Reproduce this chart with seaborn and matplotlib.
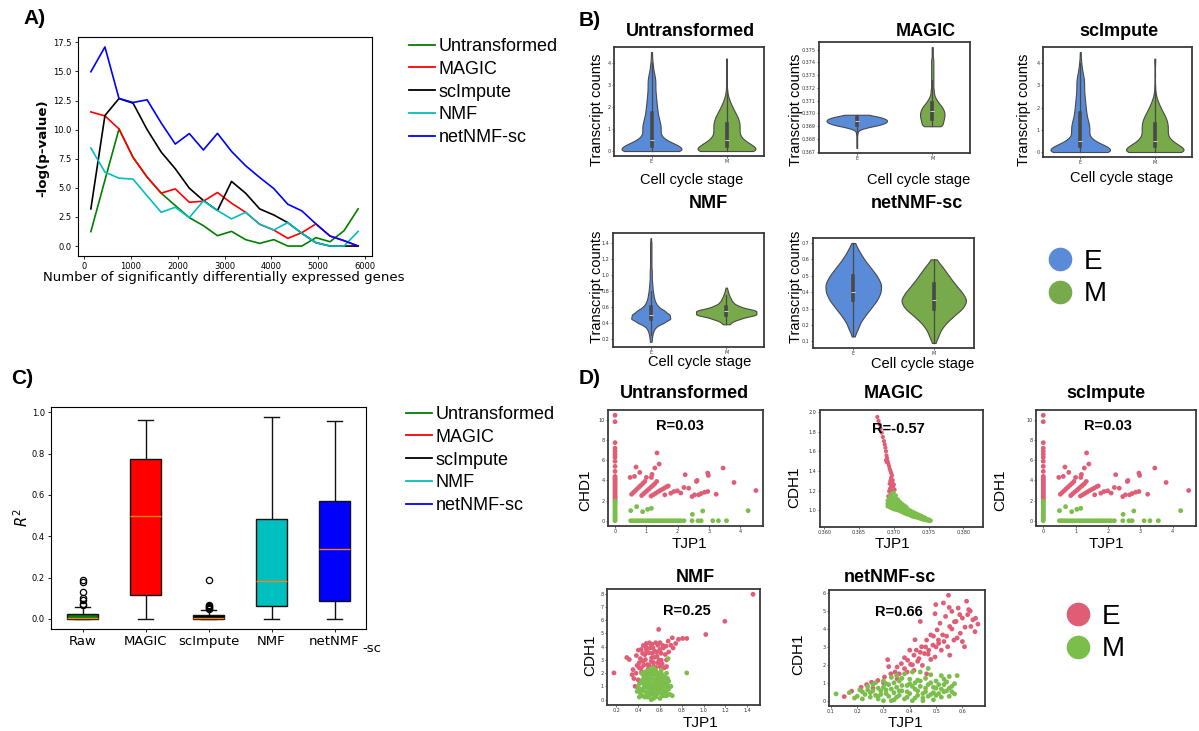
import numpy as np
import pandas as pd
import matplotlib
matplotlib.use("Agg")
import matplotlib.pyplot as plt
from matplotlib.lines import Line2D
from matplotlib.ticker import MultipleLocator, FormatStrFormatter
import seaborn as sns

# ---------------------------------------------------------------- data ----
# A) -log(p-value) against the number of differentially expressed genes
genes = [150, 450, 750, 1050, 1350, 1650, 1950, 2250, 2550, 2850,
         3150, 3450, 3750, 4050, 4350, 4650, 4950, 5250, 5550, 5850]
logp_untransformed = [1.24, 5.66, 10.06, 7.61, 5.92, 4.54, 3.48, 2.44, 1.75, 0.89,
                      1.26, 0.55, 0.23, 0.55, 0.0, 0.0, 0.72, 0.37, 1.32, 3.19]
logp_magic = [11.52, 11.18, 10.06, 7.61, 5.92, 4.54, 4.91, 3.76, 3.85, 4.60,
              3.68, 2.90, 1.87, 1.38, 0.66, 1.15, 1.90, 0.86, 0.46, 0.0]
logp_scimpute = [3.19, 11.21, 12.67, 12.27, 10.0, 8.07, 6.64, 4.97, 3.91, 3.05,
                 5.55, 4.54, 3.19, 2.67, 2.01, 1.09, 0.29, 0.0, 0.0, 0.0]
logp_nmf = [8.42, 6.35, 5.83, 5.75, 4.31, 2.90, 3.33, 2.44, 3.88, 3.05,
            2.33, 2.90, 1.87, 1.38, 2.01, 1.09, 0.29, 0.0, 0.0, 1.26]
logp_netnmf = [14.97, 17.10, 12.67, 12.33, 12.56, 10.57, 8.76, 9.66, 8.25, 9.68,
               8.13, 6.90, 5.89, 4.94, 3.59, 3.02, 1.90, 0.86, 0.46, 0.0]

methods = ["Untransformed", "MAGIC", "scImpute", "NMF", "netNMF-sc"]
method_colors = ["#008000", "#ff0000", "#000000", "#00bfbf", "#0000ff"]

# C) R^2 between CDH1 and TJP1 per method
box_labels = ["Raw", "MAGIC", "scImpute", "NMF", "netNMF"]
r2_raw = [0, 0, 0, 0, 0, 0, 0, 0, 0,
          0.001, 0.001, 0.002, 0.002, 0.003, 0.003, 0.004, 0.005,
          0.007, 0.009, 0.011, 0.013, 0.016, 0.019, 0.022, 0.024,
          0.056, 0.065, 0.072, 0.09, 0.10, 0.128, 0.178, 0.19]
r2_magic = [0.0, 0.117, 0.497, 0.772, 0.965]
r2_scimpute = [0, 0, 0, 0, 0, 0, 0, 0,
               0.001, 0.001, 0.002, 0.003, 0.003, 0.004, 0.005,
               0.006, 0.008, 0.010, 0.012, 0.014, 0.016, 0.018,
               0.042, 0.048, 0.052, 0.056, 0.062, 0.068, 0.19]
r2_nmf = [0.0, 0.061, 0.183, 0.484, 0.977]
r2_netnmf = [0.0, 0.085, 0.338, 0.569, 0.957]

# B) transcript counts by cell cycle stage (value levels and number of cells)
untr_E_levels = [0.0, 0.25, 0.5, 0.75, 1.0, 1.25, 1.5, 1.75, 2.0, 2.25,
                 2.5, 2.75, 3.0, 3.25, 3.5, 3.75, 4.0, 4.25, 4.5]
untr_E_counts = [67, 50, 25, 15, 17, 16, 13, 11, 10, 9, 8, 7, 7, 7, 5, 3, 2, 1, 1]
untr_M_levels = [0.0, 0.25, 0.5, 0.75, 1.0, 1.25, 1.5, 1.75, 2.0, 2.25,
                 2.5, 2.75, 3.0, 3.5, 4.0, 4.2]
untr_M_counts = [73, 55, 35, 26, 27, 27, 24, 18, 12, 7, 3, 1, 1, 1, 1, 1]

magic_E_levels = [0.3673, 0.3675, 0.3677, 0.3679, 0.3681, 0.3683, 0.3685,
                  0.3687, 0.3689, 0.3691, 0.3693, 0.3695, 0.3697, 0.3699]
magic_E_counts = [1, 1, 1, 1, 1, 1, 2, 4, 25, 60, 78, 80, 65, 30]
magic_M_levels = [0.3690, 0.3692, 0.3694, 0.3696, 0.3698, 0.3700, 0.3702, 0.3704,
                  0.3706, 0.3708, 0.3710, 0.3712, 0.3714, 0.3716, 0.3718, 0.3720,
                  0.3722, 0.3724, 0.3726, 0.3728, 0.3730, 0.3732, 0.3734, 0.3736,
                  0.3738, 0.3740, 0.3742, 0.3744, 0.3746, 0.3748, 0.3750, 0.3752]
magic_M_counts = [17, 19, 20, 21, 22, 22, 21, 19, 16, 12, 9, 6, 4, 3, 3, 2,
                  2, 2, 2, 2, 2, 2, 2, 2, 2, 2, 2, 1, 1, 1, 1, 1]

nmf_E_levels = [0.16, 0.20, 0.25, 0.30, 0.35, 0.40, 0.45, 0.50, 0.55, 0.60,
                0.65, 0.70, 0.75, 0.80, 0.85, 0.90, 0.95, 1.00, 1.05, 1.10,
                1.15, 1.20, 1.25, 1.30, 1.35, 1.40, 1.46]
nmf_E_counts = [2, 3, 5, 8, 15, 38, 58, 55, 40, 22, 14, 10, 8, 6, 5, 4, 3, 3,
                3, 2, 2, 2, 2, 2, 2, 2, 1]
nmf_M_levels = [0.38, 0.40, 0.45, 0.50, 0.55, 0.60, 0.65, 0.70, 0.75, 0.80, 0.84]
nmf_M_counts = [3, 8, 30, 68, 68, 30, 15, 10, 6, 3, 1]

netnmf_E_levels = [0.13, 0.17, 0.20, 0.25, 0.30, 0.35, 0.40, 0.45, 0.50, 0.55,
                   0.60, 0.65, 0.70]
netnmf_E_counts = [2, 5, 10, 22, 35, 48, 56, 57, 48, 35, 22, 12, 3]
netnmf_M_levels = [0.09, 0.12, 0.15, 0.20, 0.25, 0.30, 0.35, 0.40, 0.45, 0.50,
                   0.55, 0.60]
netnmf_M_counts = [2, 4, 10, 22, 40, 62, 72, 60, 45, 32, 20, 5]

# D) CDH1 against TJP1 per cell, (TJP1, CDH1) pairs
untr_E_cells = [
    (0, 2.0), (0, 2.15), (0, 2.3), (0, 2.45), (0, 2.6), (0, 2.75), (0, 2.9),
    (0, 3.05), (0, 3.2), (0, 3.35), (0, 3.5), (0, 3.65), (0, 3.8), (0, 3.95),
    (0, 4.1), (0, 4.25), (0, 4.4), (0, 4.9), (0, 5.4), (0, 5.9), (0, 6.3),
    (0, 6.6), (0, 6.9), (0, 7.2), (0, 7.75), (0, 9.83), (0, 10.47),
    (0.48, 4.3), (0.62, 4.4), (0.67, 5.33), (0.79, 4.8), (1.0, 4.3),
    (1.16, 4.3), (1.18, 4.6), (1.27, 5.23), (1.34, 6.73), (1.41, 5.63),
    (1.33, 3.9),
    (0.53, 2.63), (0.59, 2.81), (0.65, 2.99), (0.71, 3.17), (0.77, 3.35),
    (0.83, 3.53), (0.89, 3.71), (0.95, 3.9),
    (0.85, 2.5), (0.91, 2.67), (0.97, 2.84), (1.03, 3.0), (1.09, 3.17),
    (1.15, 3.34), (1.21, 3.5), (1.27, 3.67),
    (1.15, 2.45), (1.22, 2.58), (1.29, 2.71), (1.36, 2.85), (1.43, 2.98),
    (1.5, 3.1), (1.57, 3.23), (1.64, 3.36), (1.7, 3.45),
    (1.59, 2.57), (1.78, 2.73), (1.88, 2.9), (1.99, 2.97), (2.1, 2.75),
    (2.2, 3.3), (2.24, 4.57), (2.35, 3.23), (2.46, 2.4), (2.54, 2.57),
    (2.6, 3.9), (2.62, 4.0), (2.67, 2.57), (2.75, 2.7), (2.86, 2.83),
    (2.96, 2.9), (2.96, 4.73), (2.98, 4.5), (3.23, 2.63), (3.45, 5.23),
    (3.8, 3.8), (4.5, 3.0)]
untr_M_cells = [
    (0, 0.0), (0, 0.15), (0, 0.3), (0, 0.45), (0, 0.6), (0, 0.75), (0, 0.9),
    (0, 1.05), (0, 1.2), (0, 1.35), (0, 1.5), (0, 1.65), (0, 1.8), (0, 1.95),
    (0.5, 1.0), (0.69, 1.4), (0.88, 0.9), (1.04, 1.13), (1.16, 1.23),
    (2.47, 0.63), (2.8, 0.97), (4.25, 1.0),
    (0.5, 0), (0.58, 0), (0.66, 0), (0.74, 0), (0.82, 0), (0.9, 0), (0.98, 0),
    (1.06, 0), (1.14, 0), (1.22, 0), (1.3, 0), (1.38, 0), (1.46, 0), (1.54, 0),
    (1.62, 0), (1.7, 0), (1.78, 0), (1.86, 0), (1.94, 0), (2.02, 0), (2.1, 0),
    (2.2, 0), (2.46, 0), (2.65, 0), (2.75, 0), (3.12, 0), (3.3, 0), (3.56, 0)]

magic_E_cells = [
    (0.36763, 1.949), (0.36780, 1.91), (0.36795, 1.874), (0.36810, 1.83),
    (0.36826, 1.789), (0.36842, 1.745), (0.36858, 1.704), (0.36869, 1.67),
    (0.36879, 1.636), (0.36887, 1.60), (0.36895, 1.558), (0.36903, 1.53),
    (0.36911, 1.50), (0.36888, 1.51), (0.36898, 1.49), (0.36921, 1.475),
    (0.36932, 1.449), (0.36942, 1.42), (0.36953, 1.398), (0.36963, 1.375),
    (0.36974, 1.354), (0.36984, 1.306), (0.37000, 1.262), (0.37011, 1.211),
    (0.36963, 1.245), (0.36932, 1.194), (0.36921, 1.143), (0.36932, 1.092),
    (0.36947, 1.058), (0.36950, 1.30), (0.36960, 1.33), (0.36940, 1.27),
    (0.36945, 1.22), (0.36955, 1.17), (0.36935, 1.12), (0.36975, 1.28),
    (0.36990, 1.24), (0.36970, 1.20), (0.36925, 1.10), (0.36915, 1.06)]
magic_M_cells = [
    (0.3691, 1.04), (0.3691, 1.07), (0.3691, 1.10),
    (0.3694, 1.03), (0.3694, 1.07), (0.3694, 1.11), (0.3694, 1.14),
    (0.3697, 1.02), (0.3697, 1.06), (0.3697, 1.10), (0.3697, 1.14), (0.3697, 1.17),
    (0.3700, 1.01), (0.3700, 1.05), (0.3700, 1.09), (0.3700, 1.13), (0.3700, 1.18),
    (0.3703, 1.005), (0.3703, 1.04), (0.3703, 1.08), (0.3703, 1.12), (0.3703, 1.15),
    (0.3706, 1.0), (0.3706, 1.035), (0.3706, 1.07), (0.3706, 1.11),
    (0.3709, 0.99), (0.3709, 1.02), (0.3709, 1.05), (0.3709, 1.085),
    (0.3712, 0.98), (0.3712, 1.01), (0.3712, 1.04), (0.3712, 1.065),
    (0.3715, 0.97), (0.3715, 1.0), (0.3715, 1.03), (0.3715, 1.05),
    (0.3718, 0.96), (0.3718, 0.99), (0.3718, 1.02), (0.3718, 1.035),
    (0.3721, 0.955), (0.3721, 0.98), (0.3721, 1.01),
    (0.3724, 0.945), (0.3724, 0.97), (0.3724, 0.995),
    (0.3727, 0.935), (0.3727, 0.96), (0.3727, 0.985),
    (0.3730, 0.93), (0.3730, 0.95), (0.3730, 0.975),
    (0.3733, 0.925), (0.3733, 0.945), (0.3733, 0.965),
    (0.3736, 0.92), (0.3736, 0.935), (0.3736, 0.955),
    (0.3739, 0.91), (0.3739, 0.93), (0.3739, 0.945),
    (0.3742, 0.905), (0.3742, 0.92), (0.3742, 0.935),
    (0.3745, 0.90), (0.3745, 0.915), (0.3745, 0.925),
    (0.3748, 0.895), (0.3748, 0.91), (0.3751, 0.89), (0.3751, 0.905),
    (0.3753, 0.895)]

nmf_E_cells = [
    (1.455, 7.95), (1.196, 5.91), (1.021, 4.92), (0.588, 5.30), (0.177, 2.02),
    (0.295, 3.18), (0.318, 3.03), (0.344, 1.89), (0.371, 1.01), (0.383, 3.33),
    (0.428, 3.79), (0.447, 4.09), (0.474, 4.24), (0.504, 4.29), (0.527, 4.17),
    (0.409, 2.78), (0.428, 2.40), (0.466, 3.03), (0.497, 3.54), (0.523, 3.16),
    (0.550, 3.66), (0.573, 3.28), (0.599, 3.79), (0.626, 4.09), (0.656, 4.04),
    (0.675, 4.42), (0.713, 4.67), (0.744, 4.24), (0.770, 4.55), (0.808, 4.62),
    (0.846, 4.62), (0.580, 2.78), (0.542, 2.53), (0.485, 2.65), (0.447, 2.90),
    (0.390, 2.58), (0.512, 2.22), (0.611, 2.98), (0.649, 3.41), (0.352, 2.27),
    (0.401, 3.74), (0.535, 3.91), (0.474, 3.79), (0.46, 3.4), (0.52, 2.9),
    (0.56, 2.45), (0.43, 2.1), (0.60, 2.5), (0.49, 2.0), (0.55, 3.2),
    (0.42, 3.1), (0.45, 2.6), (0.48, 3.6), (0.50, 2.6), (0.51, 3.9),
    (0.53, 3.5), (0.54, 2.8), (0.57, 3.6), (0.58, 4.1), (0.59, 3.0),
    (0.61, 3.5), (0.62, 2.7), (0.63, 3.9), (0.64, 2.4), (0.66, 3.0),
    (0.68, 3.6), (0.70, 4.1), (0.44, 3.5), (0.47, 4.0), (0.49, 2.3),
    (0.41, 2.4), (0.38, 2.0), (0.36, 1.6), (0.56, 4.3), (0.60, 4.3),
    (0.52, 4.1), (0.46, 1.9), (0.40, 1.5), (0.72, 3.9), (0.66, 2.5)]
nmf_M_cells = [
    (0.846, 2.02), (0.675, 3.10), (0.713, 0.30), (0.390, 0.63),
    (0.42, 0.5), (0.45, 0.9), (0.47, 1.3), (0.48, 1.8), (0.50, 0.3), (0.50, 1.1),
    (0.52, 1.6), (0.53, 2.1), (0.54, 0.7), (0.55, 1.3), (0.56, 0.2), (0.57, 1.9),
    (0.58, 1.0), (0.59, 0.5), (0.60, 1.5), (0.61, 2.2), (0.62, 0.8), (0.63, 1.2),
    (0.64, 0.3), (0.65, 1.7), (0.66, 0.6), (0.67, 1.1), (0.44, 1.5), (0.46, 0.2),
    (0.49, 2.2), (0.51, 0.6), (0.53, 1.0), (0.55, 1.9), (0.57, 0.4), (0.58, 1.4),
    (0.60, 0.1), (0.62, 1.9), (0.64, 0.9), (0.68, 1.4), (0.41, 1.2), (0.43, 2.0),
    (0.48, 0.5), (0.52, 0.0), (0.56, 0.9), (0.59, 1.8), (0.61, 0.6), (0.63, 1.5),
    (0.70, 1.0), (0.66, 2.0), (0.54, 2.4), (0.47, 1.0), (0.69, 0.4), (0.45, 1.8),
    (0.50, 1.5), (0.57, 1.2), (0.62, 0.3), (0.40, 0.9), (0.53, 0.4), (0.65, 1.3),
    (0.41, 0.2), (0.42, 0.8), (0.43, 1.4), (0.44, 0.3), (0.45, 1.2), (0.46, 1.6),
    (0.47, 0.6), (0.48, 1.2), (0.49, 0.9), (0.50, 1.9), (0.51, 1.3), (0.52, 0.8),
    (0.53, 1.6), (0.54, 1.1), (0.55, 0.5), (0.56, 1.5), (0.57, 0.9), (0.58, 2.0),
    (0.59, 0.8), (0.60, 1.2), (0.61, 1.7), (0.62, 1.0), (0.63, 0.6), (0.64, 1.6),
    (0.65, 0.9), (0.66, 0.3), (0.67, 1.6), (0.68, 0.8), (0.46, 2.1), (0.51, 2.3),
    (0.56, 2.2), (0.60, 2.0), (0.49, 0.2), (0.54, 0.1), (0.58, 0.6), (0.44, 0.7),
    (0.52, 1.9), (0.57, 1.6), (0.62, 1.4), (0.48, 1.6)]

netnmf_E_cells = [
    (0.151, 0.23), (0.179, 0.53), (0.215, 0.75), (0.236, 0.90), (0.255, 1.03),
    (0.279, 1.13), (0.304, 1.32), (0.316, 2.29), (0.328, 1.50), (0.344, 1.60),
    (0.352, 1.88), (0.368, 2.07), (0.380, 1.79), (0.392, 2.26), (0.403, 2.03),
    (0.416, 2.54), (0.425, 2.82), (0.435, 2.35), (0.440, 4.42), (0.445, 3.01),
    (0.456, 2.63), (0.464, 3.38), (0.472, 2.82), (0.480, 3.67), (0.488, 3.10),
    (0.496, 4.85), (0.499, 5.36), (0.504, 3.95), (0.509, 3.38), (0.515, 4.32),
    (0.525, 3.67), (0.528, 5.45), (0.536, 4.70), (0.547, 5.88), (0.552, 4.14),
    (0.560, 4.98), (0.568, 3.38), (0.576, 4.42), (0.584, 5.17), (0.592, 3.76),
    (0.600, 4.61), (0.616, 5.55), (0.624, 5.08), (0.632, 4.14), (0.640, 4.51),
    (0.659, 4.27), (0.648, 3.85), (0.608, 3.01), (0.544, 3.01), (0.416, 1.69),
    (0.352, 1.22), (0.400, 2.82), (0.448, 1.97), (0.496, 2.44), (0.552, 2.54),
    (0.520, 2.82), (0.464, 1.50), (0.58, 3.5), (0.50, 3.0), (0.43, 2.2),
    (0.56, 4.0), (0.62, 4.8), (0.47, 2.6), (0.53, 3.3), (0.39, 1.6),
    (0.32, 1.9), (0.36, 1.5), (0.38, 2.4), (0.41, 2.0), (0.44, 2.7),
    (0.46, 3.0), (0.49, 3.6), (0.51, 3.2), (0.54, 3.6), (0.57, 4.4),
    (0.59, 4.8), (0.61, 4.1), (0.63, 5.0), (0.65, 4.6), (0.42, 3.4),
    (0.48, 2.3), (0.26, 0.7), (0.30, 1.0), (0.55, 5.2), (0.60, 3.3)]
netnmf_M_cells = [
    (0.12, 0.38), (0.17, 0.45), (0.19, 0.15), (0.21, 0.6), (0.22, 0.1),
    (0.23, 0.35), (0.24, 0.8), (0.25, 0.2), (0.26, 0.55), (0.27, 1.0),
    (0.28, 0.1), (0.28, 0.7), (0.29, 0.35), (0.30, 1.1), (0.30, 0.0),
    (0.31, 0.6), (0.32, 0.25), (0.32, 0.9), (0.33, 1.3), (0.34, 0.45),
    (0.34, 0.05), (0.35, 0.75), (0.36, 1.1), (0.36, 0.3), (0.37, 0.55),
    (0.38, 1.5), (0.38, 0.1), (0.39, 0.85), (0.40, 0.4), (0.40, 1.2),
    (0.41, 0.0), (0.42, 0.65), (0.42, 1.0), (0.43, 0.3), (0.44, 1.6),
    (0.44, 0.8), (0.45, 0.15), (0.46, 0.5), (0.46, 1.25), (0.47, 0.9),
    (0.48, 0.35), (0.48, 1.45), (0.49, 0.05), (0.50, 0.7), (0.50, 1.1),
    (0.51, 0.4), (0.52, 1.4), (0.52, 0.2), (0.53, 0.9), (0.54, 0.55),
    (0.55, 1.35), (0.55, 0.25), (0.56, 0.8), (0.57, 0.38), (0.58, 1.4),
    (0.47, 1.8), (0.41, 1.6), (0.35, 1.4), (0.26, 0.9), (0.20, 0.25),
    (0.33, 0.0), (0.45, 0.0), (0.39, 0.2), (0.29, 0.55), (0.31, 0.95),
    (0.37, 1.25), (0.43, 1.15), (0.49, 0.75), (0.53, 1.2), (0.27, 0.3),
    (0.22, 0.5), (0.25, 0.45), (0.28, 0.25), (0.31, 0.4), (0.33, 0.65),
    (0.35, 0.2), (0.37, 0.85), (0.39, 0.5), (0.41, 0.8), (0.43, 0.55),
    (0.45, 0.4), (0.47, 0.25), (0.49, 0.45), (0.51, 0.9), (0.53, 0.5),
    (0.55, 0.7), (0.57, 0.95), (0.30, 0.75), (0.34, 1.0), (0.40, 0.95),
    (0.44, 1.1), (0.46, 0.7), (0.48, 1.0), (0.52, 0.65), (0.54, 1.05),
    (0.36, 0.55), (0.42, 0.15), (0.50, 0.3), (0.56, 0.5), (0.24, 0.6)]

r_values = {"Untransformed": "R=0.03", "MAGIC": "R=-0.57", "scImpute": "R=0.03",
            "NMF": "R=0.25", "netNMF-sc": "R=0.66"}

# -------------------------------------------------------------- styles ----
VIOLIN_E, VIOLIN_M = "#5a8bd8", "#78a94a"
DOT_E, DOT_M = "#e05d76", "#7cbe4c"
SANS = "Liberation Sans"
FRAME = "#3a3a3a"

W, H = 1199, 731
fig = plt.figure(figsize=(W / 100, H / 100), dpi=100)


def add_ax(x0, y0, x1, y1):
    return fig.add_axes([x0 / W, 1 - y1 / H, (x1 - x0) / W, (y1 - y0) / H])


def ftext(x, y, s, **kw):
    kw.setdefault("ha", "center")
    kw.setdefault("va", "center")
    return fig.text(x / W, 1 - y / H, s, **kw)


def method_legend(x_left, y_top):
    handles = [Line2D([], [], color=c, lw=1.3) for c in method_colors]
    fig.legend(handles, methods, loc="upper left",
               bbox_to_anchor=(x_left / W, 1 - y_top / H),
               frameon=False, prop={"family": SANS, "size": 13},
               handlelength=1.45, handletextpad=0.2, labelspacing=0.32,
               borderpad=0, borderaxespad=0)


def stage_legend(cx, cy, colors):
    handles = [Line2D([], [], ls="", marker="o", ms=16, mfc=c, mec=c)
               for c in colors]
    fig.legend(handles, ["E", "M"], loc="center left",
               bbox_to_anchor=((cx - 14) / W, 1 - cy / H),
               frameon=False, prop={"family": SANS, "size": 20},
               handlelength=1.0, handletextpad=0.35, labelspacing=0.25,
               borderpad=0, borderaxespad=0)


def small_frame(ax):
    for sp in ax.spines.values():
        sp.set_color(FRAME)
        sp.set_linewidth(1.3)
    ax.tick_params(labelsize=3.5, length=1.5, width=0.5, pad=1, colors="#333333")
    ax.set_xlabel("")
    ax.set_ylabel("")


# panel letters
for letter, (lx, ly) in {"A)": (35, 18), "B)": (590, 20),
                         "C)": (22, 379), "D)": (590, 379)}.items():
    ftext(lx, ly, letter, family=SANS, fontsize=15, fontweight="bold")

# ---------------------------------------------------------------- A ----
axA = add_ax(77.5, 37, 371.5, 256)
dfA = pd.DataFrame({
    "genes": genes * 5,
    "logp": (logp_untransformed + logp_magic + logp_scimpute
             + logp_nmf + logp_netnmf),
    "method": sum([[m] * len(genes) for m in methods], []),
})
sns.lineplot(data=dfA, x="genes", y="logp", hue="method", hue_order=methods,
             palette=dict(zip(methods, method_colors)), linewidth=1.2,
             legend=False, ax=axA)
axA.set_xticks([0, 1000, 2000, 3000, 4000, 5000, 6000])
axA.yaxis.set_major_locator(MultipleLocator(2.5))
axA.yaxis.set_major_formatter(FormatStrFormatter("%.1f"))
axA.tick_params(labelsize=6, length=2.5, width=0.6, pad=2)
axA.set_xlabel("")
axA.set_ylabel("")
ftext(224, 278, "Number of significantly differentially expressed genes",
      fontsize=9.5)
ftext(43, 148, "-log(p-value)", rotation=90, fontsize=9.6, fontweight="bold")
method_legend(409, 38)

# ---------------------------------------------------------------- C ----
axC = add_ax(51, 407, 366, 629)
r2_lists = [r2_raw, r2_magic, r2_scimpute, r2_nmf, r2_netnmf]
dfC = pd.DataFrame({
    "method": sum([[lab] * len(v) for lab, v in zip(box_labels, r2_lists)], []),
    "r2": sum(r2_lists, []),
})
sns.boxplot(data=dfC, x="method", y="r2", hue="method", order=box_labels,
            hue_order=box_labels, palette=dict(zip(box_labels, method_colors)),
            saturation=1, width=0.5, linecolor="#111111", linewidth=1.0,
            fliersize=4.5, legend=False, ax=axC,
            medianprops={"color": "#ff7f0e", "linewidth": 1.0},
            flierprops={"marker": "o", "markerfacecolor": "none",
                        "markeredgecolor": "black", "markeredgewidth": 0.9})
axC.yaxis.set_major_locator(MultipleLocator(0.2))
axC.yaxis.set_major_formatter(FormatStrFormatter("%.1f"))
axC.tick_params(axis="y", labelsize=6, length=2.5, width=0.6, pad=2)
axC.tick_params(axis="x", labelsize=9.5, length=2.5, width=0.6, pad=2)
axC.set_xlabel("")
axC.set_ylabel("")
ftext(22, 518, r"$R^2$", rotation=90, fontsize=10.5)
ftext(372, 648, "-sc", fontsize=9.5)
method_legend(406, 406)

# ---------------------------------------------------------------- B ----
def fixed_bw(width):
    return lambda kde: width / np.std(kde.dataset, ddof=1)


violin_panels = [
    # title, E levels/counts, M levels/counts, bandwidth, tick step, layout
    ("Untransformed", untr_E_levels, untr_E_counts, untr_M_levels, untr_M_counts,
     0.17, 1, dict(box=(614, 47, 764, 156), title=(690, 31), ylab=(597, 110), xlab=(692, 180))),
    ("MAGIC", magic_E_levels, magic_E_counts, magic_M_levels, magic_M_counts,
     0.00012, 0.001, dict(box=(819, 42, 970, 153), title=(926, 31), ylab=(796, 110), xlab=(919, 180))),
    ("scImpute", untr_E_levels, untr_E_counts, untr_M_levels, untr_M_counts,
     0.17, 1, dict(box=(1043, 47, 1192, 157), title=(1119, 31), ylab=(1024, 110), xlab=(1122, 178))),
    ("NMF", nmf_E_levels, nmf_E_counts, nmf_M_levels, nmf_M_counts,
     0.025, 0.2, dict(box=(613, 233, 764, 347), title=(708, 203), ylab=(597, 287), xlab=(700, 362))),
    ("netNMF-sc", netnmf_E_levels, netnmf_E_counts, netnmf_M_levels, netnmf_M_counts,
     0.03, 0.1, dict(box=(813, 238, 974, 348), title=(917, 203), ylab=(796, 287), xlab=(923, 364))),
]

for title, el, ec, ml, mc, bw, step, lay in violin_panels:
    ax = add_ax(*lay["box"])
    e_vals = np.repeat(el, ec)
    m_vals = np.repeat(ml, mc)
    dfv = pd.DataFrame({"stage": ["E"] * len(e_vals) + ["M"] * len(m_vals),
                        "value": np.concatenate([e_vals, m_vals])})
    sns.violinplot(data=dfv, x="stage", y="value", hue="stage",
                   order=["E", "M"], hue_order=["E", "M"],
                   palette={"E": VIOLIN_E, "M": VIOLIN_M}, saturation=1,
                   cut=0, bw_method=fixed_bw(bw), density_norm="area",
                   common_norm=True, linewidth=0.8, legend=False, ax=ax,
                   inner_kws={"box_width": 2.6, "whis_width": 0.9})
    ax.yaxis.set_major_locator(MultipleLocator(step))
    if step < 0.01:
        ax.yaxis.set_major_formatter(FormatStrFormatter("%.3f"))
    small_frame(ax)
    ftext(*lay["title"], title, family=SANS, fontsize=13, fontweight="bold")
    ftext(*lay["ylab"], "Transcript counts", family=SANS, fontsize=10.5,
          rotation=90)
    ftext(*lay["xlab"], "Cell cycle stage", family=SANS, fontsize=10.5)

stage_legend(1060, 278, [VIOLIN_E, VIOLIN_M])

# ---------------------------------------------------------------- D ----
scatter_panels = [
    ("Untransformed", "CHD1", untr_E_cells, untr_M_cells, 12, (1, 2),
     dict(box=(608, 410, 763, 526), title=(684, 393), ylab=(585, 490), xlab=(689, 544), r=(680, 426))),
    ("MAGIC", "CDH1", magic_E_cells, magic_M_cells, 9, (0.005, 0.2),
     dict(box=(820, 410, 983, 527), title=(894, 393), ylab=(794, 487), xlab=(892, 544), r=(898, 429))),
    ("scImpute", "CDH1", untr_E_cells, untr_M_cells, 12, (1, 2),
     dict(box=(1036, 410, 1196, 526), title=(1106, 393), ylab=(1000, 490), xlab=(1106, 544), r=(1108, 426))),
    ("NMF", "CDH1", nmf_E_cells, nmf_M_cells, 12, (0.2, 1),
     dict(box=(607, 589, 760, 705), title=(695, 577), ylab=(590, 655), xlab=(700, 723), r=(687, 611))),
    ("netNMF-sc", "CDH1", netnmf_E_cells, netnmf_M_cells, 12, (0.1, 1),
     dict(box=(829, 590, 985, 706), title=(890, 577), ylab=(798, 654), xlab=(905, 723), r=(899, 612))),
]

for title, ylab, cells_E, cells_M, size, (xs, ys), lay in scatter_panels:
    ax = add_ax(*lay["box"])
    dfs = pd.DataFrame(cells_E + cells_M, columns=["TJP1", "CDH1"])
    dfs["stage"] = ["E"] * len(cells_E) + ["M"] * len(cells_M)
    sns.scatterplot(data=dfs, x="TJP1", y="CDH1", hue="stage",
                    palette={"E": DOT_E, "M": DOT_M}, s=size, linewidth=0,
                    legend=False, ax=ax)
    ax.xaxis.set_major_locator(MultipleLocator(xs))
    ax.yaxis.set_major_locator(MultipleLocator(ys))
    if title == "MAGIC":
        ax.set_xlim(0.3594, 0.3828)
        ax.set_ylim(0.83, 2.02)
        ax.xaxis.set_major_formatter(FormatStrFormatter("%.3f"))
        ax.yaxis.set_major_formatter(FormatStrFormatter("%.1f"))
    small_frame(ax)
    ftext(*lay["title"], title, family=SANS, fontsize=13, fontweight="bold")
    ftext(*lay["ylab"], ylab, family=SANS, fontsize=11, rotation=90)
    ftext(*lay["xlab"], "TJP1", family=SANS, fontsize=11)
    ftext(*lay["r"], r_values[title], family=SANS, fontsize=10.5,
          fontweight="bold")

stage_legend(1078, 633, [DOT_E, DOT_M])

fig.savefig("out.png", dpi=100, facecolor="white")
